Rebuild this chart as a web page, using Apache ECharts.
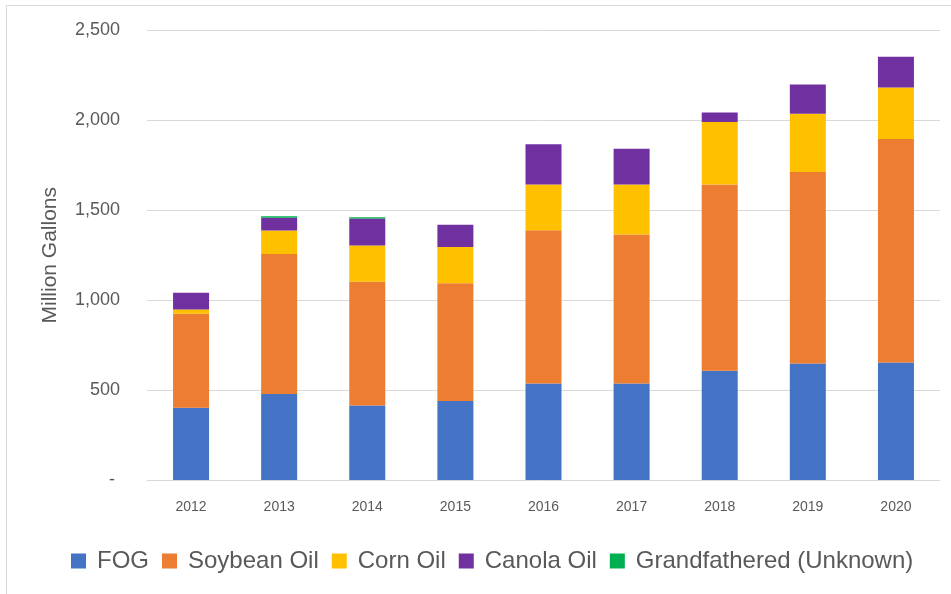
<!DOCTYPE html>
<html>
<head>
<meta charset="utf-8">
<script src="https://cdn.jsdelivr.net/npm/echarts@6/dist/echarts.min.js"></script>
<style>
  html, body { margin: 0; padding: 0; background: #fff; }
  #myChart { width: 951px; height: 594px; }
</style>
</head>
<body>
<div id="myChart"></div>
<script>
// 年份
const years = ["2012", "2013", "2014", "2015", "2016", "2017", "2018", "2019", "2020"];
// 各原料用量 (Million Gallons)
const fog = [402, 478, 415, 439, 537, 537, 607, 648, 654];
const soybeanOil = [522, 779, 687, 655, 852, 828, 1036, 1065, 1242];
const cornOil = [24, 130, 202, 202, 254, 279, 348, 324, 287];
const canolaOil = [93, 72, 150, 123, 224, 199, 53, 163, 171];
const grandfathered = [0, 8, 7, 0, 0, 0, 0, 0, 0];
const yTicks = [0, 500, 1000, 1500, 2000, 2500];

const seriesNames = ["FOG", "Soybean Oil", "Corn Oil", "Canola Oil", "Grandfathered (Unknown)"];
const seriesData = [fog, soybeanOil, cornOil, canolaOil, grandfathered];
const colors = ["#4472C4", "#ED7D31", "#FFC000", "#7030A0", "#00B050"];

let chart = echarts.init(document.getElementById("myChart"));
let option = {
  animation: false,
  color: colors,
  textStyle: { fontFamily: "Liberation Sans" },
  graphic: [
    {
      type: "rect",
      shape: { x: 6.5, y: 5.5, width: 1000, height: 700 },
      style: { fill: "none", stroke: "#d9d9d9", lineWidth: 1 },
      silent: true,
    },
  ],
  legend: {
    data: seriesNames,
    top: 544,
    left: 66,
    itemWidth: 15,
    itemHeight: 15,
    itemGap: 13,
    icon: "rect",
    textStyle: {
      color: "#595959",
      fontSize: 24,
      fontFamily: "Liberation Sans",
      padding: [0, 0, 0, 6],
    },
  },
  grid: {
    left: 147,
    right: 11,
    top: 30.5,
    bottom: 114,
  },
  xAxis: {
    type: "category",
    data: years,
    axisLine: { lineStyle: { color: "#d9d9d9" } },
    axisTick: { show: false },
    axisLabel: {
      color: "#595959",
      fontSize: 14,
      margin: 20,
    },
  },
  yAxis: {
    type: "value",
    min: yTicks[0],
    max: yTicks[yTicks.length - 1],
    interval: 500,
    name: "Million Gallons",
    nameLocation: "middle",
    nameGap: 86,
    nameTextStyle: { color: "#595959", fontSize: 21 },
    axisLine: { show: false },
    axisTick: { show: false },
    splitLine: { lineStyle: { color: "#d9d9d9" } },
    axisLabel: {
      color: "#595959",
      fontSize: 18,
      margin: 27,
      formatter: (v) => (v === 0 ? "- " : v.toLocaleString("en-US")),
    },
  },
  series: seriesNames.map((name, i) => ({
    type: "bar",
    name: name,
    stack: "total",
    barWidth: 36,
    data: seriesData[i],
  })),
};
chart.setOption(option);
</script>
</body>
</html>
